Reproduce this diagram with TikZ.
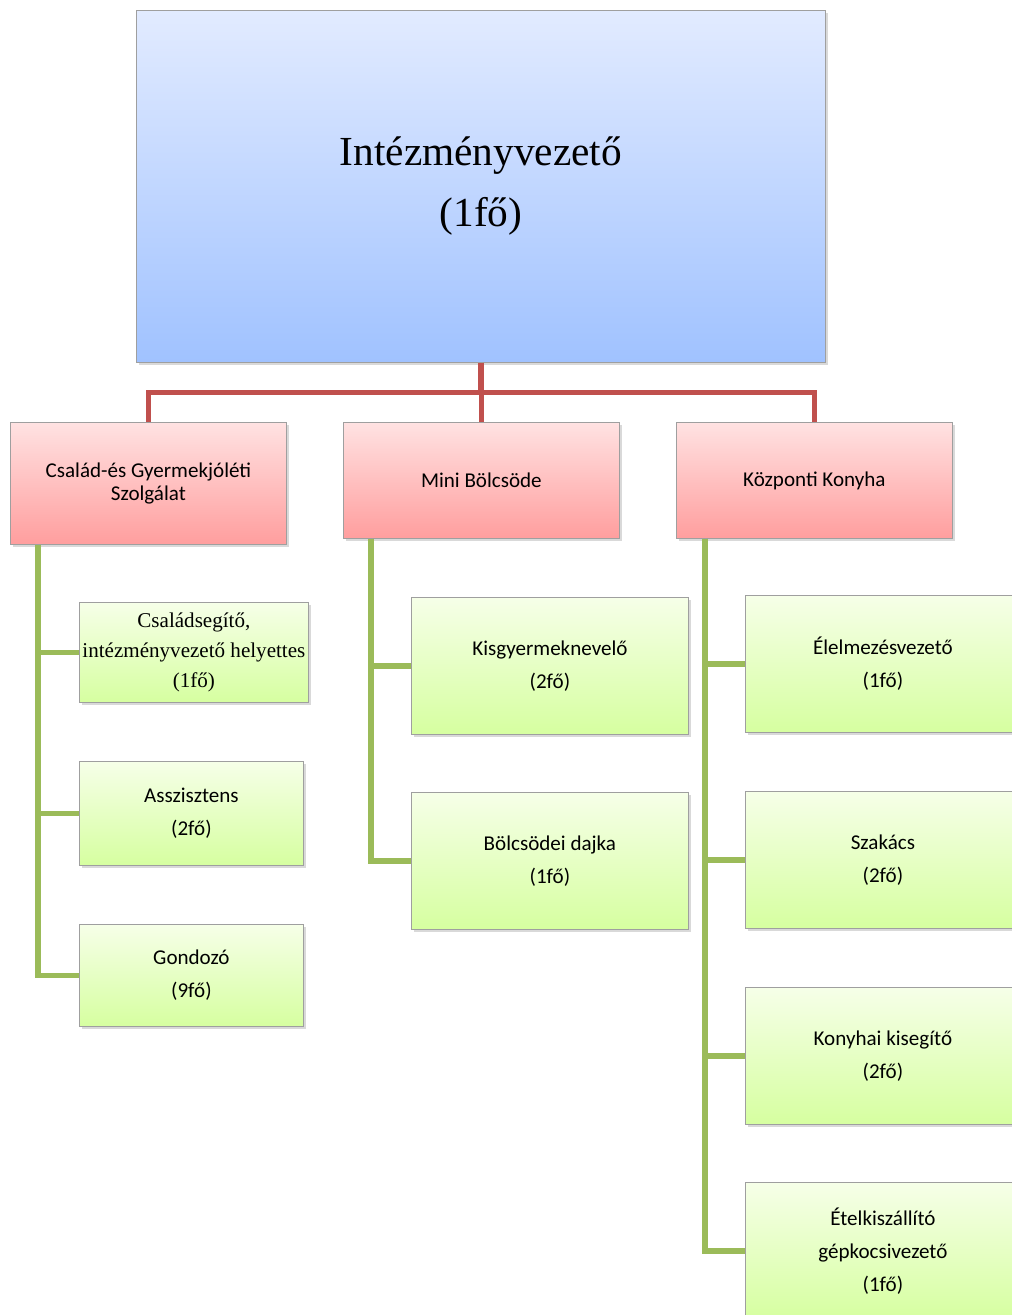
\documentclass[tikz,border=0pt]{standalone}
\usepackage{fontspec}
\setmainfont{Liberation Serif}
\newfontfamily\carlito{Carlito}
\usetikzlibrary{positioning,
	calc,
	shadows}
\definecolor{blueTop}{RGB}{226,235,255}
\definecolor{blueBot}{RGB}{160,194,255}
\definecolor{redTop}{RGB}{255,226,226}
\definecolor{redBot}{RGB}{255,158,158}
\definecolor{greenTop}{RGB}{246,255,232}
\definecolor{greenBot}{RGB}{214,255,160}
\definecolor{lineRed}{RGB}{192,80,77}
\definecolor{lineGreen}{RGB}{155,187,89}
\tikzset{wh/.style 2 args={minimum width=#1*0.75pt, minimum height=#2*0.75pt}}
\tikzstyle{box}=[draw=gray!75, line width=0.6pt, inner sep=0pt, align=center,
		anchor=north west, drop shadow={shadow xshift=1.6pt, shadow yshift=-1.6pt, opacity=0.3}]
\tikzstyle{head}=[box, top color=blueTop, bottom color=blueBot, font=\fontsize{31}{45.75}\selectfont]
\tikzstyle{unit}=[box, top color=redTop, bottom color=redBot, font=\carlito\fontsize{15.8}{17.25}\selectfont]
\tikzstyle{post}=[box, top color=greenTop, bottom color=greenBot, font=\carlito\fontsize{15.8}{24.75}\selectfont]
\tikzstyle{redline}=[draw=lineRed, line width=4pt]
\tikzstyle{greenline}=[draw=lineGreen, line width=4pt]

\begin{document}
\begin{tikzpicture}[x=0.75pt, y=-0.75pt]
	\useasboundingbox (0,0) rectangle (1012,1315);
	% leader
	\node[head, wh={689}{352}] (vez) at (136,10) {Intézményvezető\\(1fő)};
	% units
	\node[unit, wh={276}{122}] (csgy) at (10,422) {Család-és Gyermekjóléti\\Szolgálat};
	\node[unit, wh={276}{116}] (bolcs) at (343,422) {Mini Bölcsöde};
	\node[unit, wh={276}{116}] (konyha) at (676,422) {Központi Konyha};
	\foreach \u in {csgy, bolcs, konyha}
		\draw[redline] (vez.south) -- ++(0,30) -| (\u.north);
	% Család-és Gyermekjóléti Szolgálat
	\node[post, wh={229}{100}, font=\fontsize{15.8}{22.5}\selectfont] (segito) at (79,602)
		{Családsegítő,\\intézményvezető helyettes\\(1fő)};
	\node[post, wh={224}{104}] (asszi) at (79,761) {Asszisztens\\(2fő)};
	\node[post, wh={224}{102}] (gond) at (79,924) {Gondozó\\(9fő)};
	\foreach \p in {segito, asszi, gond}
		\draw[greenline] ($(csgy.south west)+(28,0)$) |- (\p.west);
	% Mini Bölcsöde
	\node[post, wh={277}{137}] (nevelo) at (411,597) {Kisgyermeknevelő\\(2fő)};
	\node[post, wh={277}{137}] (dajka) at (411,792) {Bölcsödei dajka\\(1fő)};
	\foreach \p in {nevelo, dajka}
		\draw[greenline] ($(bolcs.south west)+(28,0)$) |- (\p.west);
	% Központi Konyha
	\node[post, wh={275}{137}] (elelm) at (745,595) {Élelmezésvezető\\(1fő)};
	\node[post, wh={275}{137}] (szakacs) at (745,791) {Szakács\\(2fő)};
	\node[post, wh={275}{137}] (kiseg) at (745,987) {Konyhai kisegítő\\(2fő)};
	\node[post, wh={275}{137}] (sofor) at (745,1182) {Ételkiszállító\\gépkocsivezető\\(1fő)};
	\foreach \p in {elelm, szakacs, kiseg, sofor}
		\draw[greenline] ($(konyha.south west)+(29,0)$) |- (\p.west);
\end{tikzpicture}
\end{document}
